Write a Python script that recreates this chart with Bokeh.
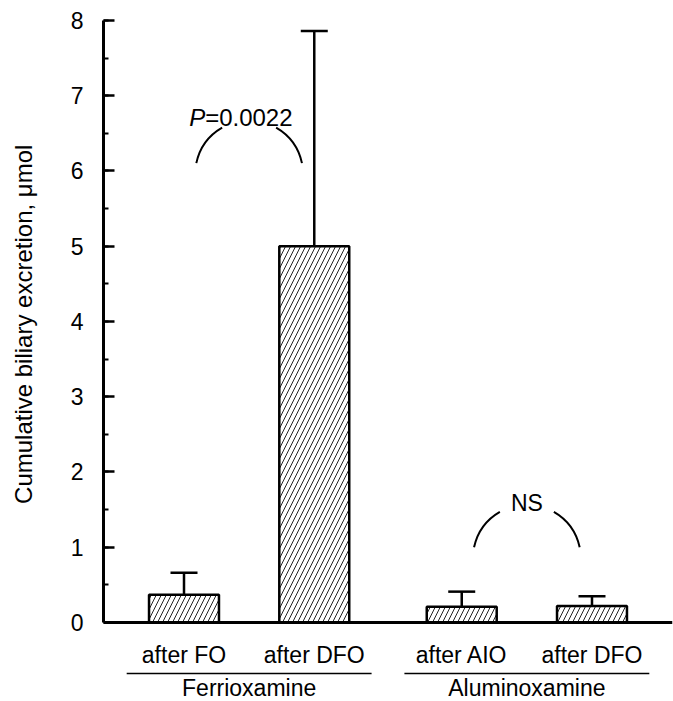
from bokeh.plotting import figure
from bokeh.models import (FactorRange, Range1d, Whisker, TeeHead, ColumnDataSource,
                          SingleIntervalTicker)
from bokeh.core.properties import value
from bokeh.embed import file_html
from bokeh.resources import INLINE

# ---- data ----
groups = ["Ferrioxamine", "Ferrioxamine", "Aluminoxamine", "Aluminoxamine"]
treatments = ["after FO", "after DFO", "after AIO", "after DFO"]
means = [0.37, 5.0, 0.21, 0.22]
err_tops = [0.66, 7.86, 0.41, 0.35]
group_names = ["Ferrioxamine", "Aluminoxamine"]
y_title = "Cumulative biliary excretion, \u03bcmol"
p_symbol = "P"
p_value_text = "=0.0022"
ns_text = "NS"
bracket_levels = [5.955, 0.85]   # y of the comparison brackets

FONT = "Liberation Sans"
factors = list(zip(groups, treatments))

x_range = FactorRange(*factors, factor_padding=0.0, group_padding=0.132,
                      range_padding=0.118, range_padding_units="absolute")
y_range = Range1d(-1.05, 8)

p = figure(width=673, height=701, x_range=x_range, y_range=y_range,
           output_backend="svg", toolbar_location=None,
           min_border_left=103, min_border_right=1, min_border_top=20, min_border_bottom=0)
p.outline_line_color = None
p.xgrid.visible = False
p.ygrid.visible = False
p.background_fill_color = "white"
p.border_fill_color = "white"

src = ColumnDataSource(dict(x=factors, top=means, upper=err_tops))

p.vbar(x="x", top="top", width=0.537, source=src, fill_color="white",
       line_color="black", line_width=2.5, hatch_pattern="/", hatch_scale=10,
       hatch_weight=1.0, hatch_color="#222222")

w = Whisker(base="x", upper="upper", lower="top", source=src, dimension="height",
            line_color="black", line_width=2.5,
            upper_head=TeeHead(size=27, line_width=2.5, line_color="black"),
            lower_head=None)
p.add_layout(w)

# y axis
ya = p.yaxis[0]
ya.ticker = SingleIntervalTicker(interval=1, num_minor_ticks=2)
ya.bounds = (0, 8)
ya.axis_line_width = 3
ya.major_tick_in = 11
ya.major_tick_out = 0
ya.minor_tick_in = 5
ya.minor_tick_out = 0
ya.major_tick_line_width = 2.5
ya.minor_tick_line_width = 2
ya.major_label_standoff = 20
ya.major_label_text_font = FONT
ya.major_label_text_font_size = "23px"
ya.major_label_text_color = "black"
# leading no-break spaces move the centred title up, as in the reference
ya.axis_label = "\u00a0" * 11 + y_title
ya.axis_label_text_font = FONT
ya.axis_label_text_font_size = "24px"
ya.axis_label_text_font_style = "normal"
ya.axis_label_text_color = "black"
ya.axis_label_standoff = 31

# x axis at y = 0
xa = p.xaxis[0]
xa.fixed_location = 0
xa.axis_line_width = 3
xa.major_tick_in = 0
xa.major_tick_out = 0
xa.major_label_standoff = 20
xa.major_label_text_font = FONT
xa.major_label_text_font_size = "23px"
xa.major_label_text_color = "black"
xa.group_text_alpha = 0
xa.separator_line_alpha = 0

# group labels and underlines
p.text(x=group_names, y=[0, 0], text=group_names, y_offset=66,
       text_align="center", text_baseline="middle",
       text_font=value(FONT), text_font_size="23px", text_color="black")
p.segment(x0=[[g, -0.94] for g in group_names], y0=[-0.678, -0.678],
          x1=[[g, 0.94] for g in group_names], y1=[-0.678, -0.678],
          line_color="black", line_width=1.5)

# comparison brackets
for start, end in [(120, 168), (12, 60)]:
    p.arc(x=group_names, y=bracket_levels, radius=54, radius_units="screen",
          start_angle=start, end_angle=end, start_angle_units="deg",
          end_angle_units="deg", line_color="black", line_width=2)

p.text(x=[group_names[0]], y=[bracket_levels[0]], text=[p_symbol], x_offset=-44, y_offset=-57,
       text_align="right", text_baseline="middle", text_font=value(FONT),
       text_font_size="24px", text_font_style="italic", text_color="black")
p.text(x=[group_names[0]], y=[bracket_levels[0]], text=[p_value_text], x_offset=-44, y_offset=-57,
       text_align="left", text_baseline="middle", text_font=value(FONT),
       text_font_size="24px", text_color="black")
p.text(x=[group_names[1]], y=[bracket_levels[1]], text=[ns_text], y_offset=-56,
       text_align="center", text_baseline="middle", text_font=value(FONT),
       text_font_size="23px", text_color="black")

open("out.html", "w").write(file_html(p, INLINE))
